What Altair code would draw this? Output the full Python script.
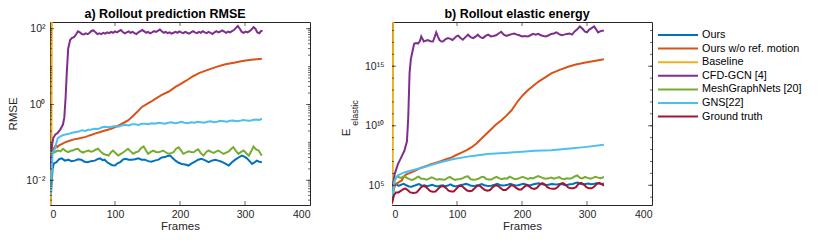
import altair as alt
import pandas as pd

SERIES = ["Ours", "Ours w/o ref. motion", "Baseline", "CFD-GCN [4]",
          "MeshGraphNets [20]", "GNS[22]", "Ground truth"]
COLORS = ["#0072BD", "#D95319", "#EDB120", "#7E2F8E", "#77AC30", "#4DBEEE", "#A2142F"]

FRAME_TICKS = [0, 100, 200, 300, 400]
RMSE_TICKS = [0.01, 1, 100]
RMSE_TICK_LABELS = ["10⁻²", "10⁰", "10²"]
ENERGY_TICKS = [1e5, 1e10, 1e15]
ENERGY_TICK_LABELS = ["10⁵", "10¹⁰", "10¹⁵"]
RMSE_DOMAIN = [0.00223, 150]
ENERGY_DOMAIN = [2.2e3, 5.2e18]

# ---------------- a) RMSE ----------------
rmse_ours_f = [0, 2, 4, 6, 10, 14, 18, 23, 28, 33, 38, 43, 48, 53, 58, 63, 69, 73, 77, 81, 84, 88, 92, 96, 100,
               104, 108, 112, 116, 121, 126, 131, 136, 141, 146, 151, 156, 161, 167, 172, 177, 181, 185, 189, 193,
               198, 203, 208, 213, 218, 223, 228, 233, 238, 244, 249, 254, 259, 264, 269, 275, 280, 285, 290, 295,
               299, 303, 307, 311, 315, 318, 322, 326]
rmse_ours_v = [0.0015, 0.006, 0.02, 0.028, 0.03, 0.036, 0.038, 0.033, 0.035, 0.032, 0.033, 0.036, 0.035, 0.031,
               0.03, 0.032, 0.033, 0.036, 0.038, 0.034, 0.035, 0.03, 0.027, 0.025, 0.0245, 0.028, 0.03, 0.035,
               0.037, 0.035, 0.035, 0.036, 0.038, 0.035, 0.035, 0.032, 0.031, 0.033, 0.035, 0.04, 0.041, 0.044,
               0.045, 0.038, 0.033, 0.029, 0.027, 0.026, 0.0245, 0.028, 0.031, 0.035, 0.037, 0.034, 0.03, 0.033,
               0.035, 0.033, 0.031, 0.028, 0.0245, 0.03, 0.035, 0.04, 0.045, 0.042, 0.038, 0.032, 0.027, 0.03,
               0.033, 0.031, 0.03]

rmse_norefmotion_f = [0, 3, 6, 9, 11, 14, 18, 23, 30, 37, 44, 55, 62, 69, 76, 82, 89, 95, 102, 110, 115, 120,
                      126, 134, 141, 150, 156, 162, 172, 183, 193, 200, 210, 219, 230, 244, 256, 270, 283, 296,
                      310, 326]
rmse_norefmotion_v = [0.04, 0.05, 0.07, 0.085, 0.075, 0.083, 0.09, 0.1, 0.11, 0.12, 0.126, 0.14, 0.155, 0.17,
                      0.185, 0.2, 0.215, 0.23, 0.26, 0.31, 0.34, 0.38, 0.47, 0.63, 0.85, 1.05, 1.2, 1.4, 1.8,
                      2.2, 2.9, 3.4, 4.3, 5.4, 6.8, 8.3, 9.8, 11.5, 12.6, 14.1, 15.1, 16.2]

rmse_baseline_f = [1, 2, 3]
rmse_baseline_v = [0.002, 0.01, 1e4]

rmse_cfdgcn_f = [0, 3, 5, 8, 12, 16, 20, 22, 24, 26, 28, 31, 34, 37, 40, 43, 46, 49, 52, 55, 58, 61, 64, 67, 70,
                 73, 76, 79, 82, 85, 88, 91, 94, 97, 100, 103, 106, 109, 112, 115, 118, 121, 124, 127, 130, 133,
                 136, 139, 142, 145, 148, 151, 154, 157, 160, 163, 166, 169, 172, 175, 178, 181, 184, 187, 190,
                 193, 196, 199, 202, 205, 208, 211, 214, 217, 220, 223, 226, 229, 232, 235, 238, 241, 244, 247,
                 250, 253, 256, 259, 262, 265, 268, 271, 274, 277, 280, 283, 286, 289, 292, 295, 298, 301, 304,
                 307, 310, 313, 316, 319, 322, 325, 327]
rmse_cfdgcn_v = [0.02, 0.08, 0.13, 0.16, 0.18, 0.22, 0.3, 0.45, 1.5, 8, 30,
                 50, 57, 60, 70, 85, 80, 72, 70, 75, 72,
                 78, 88, 90, 80, 72, 75, 72, 78, 74, 80,
                 76, 82, 78, 85, 80, 86, 92, 82, 75, 80,
                 85, 78, 82, 76, 72, 80, 86, 92, 85, 78,
                 82, 75, 80, 86, 82, 88, 95, 85, 78, 82,
                 76, 80, 74, 78, 82, 78, 85, 80, 76, 82,
                 78, 74, 80, 86, 80, 76, 82, 78, 86, 80,
                 76, 82, 78, 72, 80, 86, 80, 84, 90, 84,
                 78, 84, 80, 86, 92, 105, 118, 100, 82, 78,
                 84, 80, 86, 95, 110, 100, 80, 76, 88, 86]

rmse_mgn_f = [0, 2, 7, 12, 16, 20, 24, 28, 32, 35, 39, 43, 47, 51, 55, 59, 63, 66, 70, 74, 78, 82, 86, 90, 94,
              97, 101, 105, 109, 113, 117, 120, 124, 128, 132, 136, 140, 144, 148, 151, 155, 159, 163, 167, 171,
              174, 178, 182, 186, 190, 194, 198, 202, 205, 209, 213, 217, 221, 225, 228, 232, 236, 240, 244, 248,
              252, 256, 259, 263, 267, 271, 275, 279, 282, 286, 290, 294, 298, 302, 306, 310, 313, 317, 321, 324,
              326]
rmse_mgn_v = [0.06, 0.05, 0.055, 0.061, 0.058, 0.068, 0.06, 0.055, 0.06, 0.061, 0.066, 0.068, 0.058, 0.054,
              0.058, 0.061, 0.057, 0.058, 0.064, 0.068, 0.057, 0.05, 0.047, 0.045, 0.055, 0.061, 0.052, 0.045,
              0.05, 0.055, 0.062, 0.068, 0.058, 0.05, 0.055, 0.058, 0.07, 0.078, 0.06, 0.05, 0.056, 0.061, 0.056,
              0.055, 0.058, 0.061, 0.055, 0.05, 0.052, 0.055, 0.068, 0.074, 0.06, 0.05, 0.054, 0.058, 0.056,
              0.055, 0.062, 0.066, 0.052, 0.045, 0.055, 0.061, 0.056, 0.053, 0.058, 0.061, 0.055, 0.05, 0.054,
              0.058, 0.068, 0.075, 0.06, 0.05, 0.056, 0.061, 0.052, 0.045, 0.06, 0.078, 0.065, 0.061, 0.05, 0.045]

rmse_gns_f = [0, 2, 4, 6, 8, 10, 12, 15, 18, 22, 26, 30, 34, 38, 43, 49, 54, 59, 64, 69, 74, 80, 85, 90, 95, 100,
              105, 110, 116, 121, 126, 131, 136, 141, 146, 151, 157, 162, 167, 172, 177, 182, 187, 192, 197, 202,
              207, 212, 217, 222, 227, 232, 237, 242, 247, 252, 257, 262, 267, 272, 277, 282, 287, 292, 297, 302,
              307, 312, 317, 322, 326]
rmse_gns_v = [0.004, 0.01, 0.05, 0.06, 0.07, 0.1, 0.13, 0.14, 0.15, 0.16, 0.165, 0.17, 0.18, 0.185, 0.19, 0.21,
              0.2, 0.215, 0.22, 0.23, 0.225, 0.25, 0.26, 0.25, 0.26, 0.27, 0.26, 0.28, 0.29, 0.28, 0.3, 0.3, 0.29,
              0.31, 0.31, 0.3, 0.32, 0.31, 0.33, 0.32, 0.31, 0.33, 0.34, 0.32, 0.33, 0.35, 0.33, 0.32, 0.34, 0.33,
              0.35, 0.34, 0.33, 0.35, 0.36, 0.34, 0.35, 0.37, 0.36, 0.35, 0.37, 0.38, 0.36, 0.37, 0.39, 0.38, 0.37,
              0.39, 0.4, 0.39, 0.42]

# ---------------- b) elastic energy ----------------
en_ours_f = [0, 2, 4, 7, 10, 14, 18, 22, 26, 30, 34, 38, 42, 46, 50, 54, 58, 62, 66, 70, 74, 78, 82, 86, 90, 94,
             98, 102, 106, 110, 114, 118, 122, 126, 130, 134, 138, 142, 146, 150, 154, 158, 162, 166, 170, 174,
             178, 182, 186, 190, 194, 198, 202, 206, 210, 214, 218, 222, 226, 230, 234, 238, 242, 246, 250, 254,
             258, 262, 266, 270, 274, 278, 282, 286, 290, 294, 298, 302, 306, 310, 314, 318, 322, 326]
en_ours_v = [5e3, 3e4, 1e5, 1.2e5, 9e4, 1.1e5, 1.3e5, 1e5, 8e4, 7.5e4, 9e4, 1.1e5, 1.25e5, 9e4, 1e5, 8.5e4, 9.5e4,
             1.1e5, 9e4, 8e4, 9e4, 1e5, 8.5e4, 9.5e4, 1.2e5, 9e4, 8e4, 9e4, 1.05e5, 1.15e5, 1.3e5, 1.1e5, 9e4,
             8.5e4, 9.5e4, 1.05e5, 1.25e5, 1e5, 9e4, 8.5e4, 9.5e4, 1.1e5, 1.3e5, 1.05e5, 9.5e4, 1e5, 1.1e5, 1.3e5,
             1.1e5, 9.5e4, 1e5, 1.15e5, 1.35e5, 1.15e5, 1e5, 1.05e5, 1.2e5, 1.35e5, 1.5e5, 1.25e5, 1.1e5, 1.05e5,
             1.15e5, 1.3e5, 1.2e5, 1.15e5, 1.3e5, 1.2e5, 1.05e5, 1.1e5, 1.2e5, 1.3e5, 1.55e5, 1.7e5, 1.3e5,
             1.15e5, 1.3e5, 1.4e5, 1.2e5, 1.25e5, 1.5e5, 1.4e5, 1.3e5, 1.4e5]

en_norefmotion_f = [0, 3, 6, 9, 12, 15, 18, 22, 28, 35, 45, 52, 60, 68, 76, 84, 91, 99, 107, 115, 122, 130, 137,
                    145, 153, 160, 168, 176, 184, 194, 201, 209, 217, 225, 235, 245, 258, 271, 283, 296, 311, 326]
en_norefmotion_v = [1e4, 6.3e4, 1.26e5, 1.6e5, 2e5, 2.5e5, 5e5, 8.3e5, 1.1e6, 1.6e6, 3e6, 4e6, 5.8e6, 7.9e6,
                    1.1e7, 1.6e7, 2.1e7, 3.5e7, 5.6e7, 8.9e7, 1.5e8, 3.2e8, 7.6e8, 2e9, 5.4e9, 1.26e10, 2.8e10,
                    7.1e10, 2e11, 1.26e12, 3.5e12, 9.5e12, 2.2e13, 4.9e13, 1.1e14, 2.5e14, 5e14, 9.1e14, 1.4e15,
                    2e15, 2.8e15, 3.8e15]

en_baseline_f = [0, 1, 2]
en_baseline_v = [2e3, 1e6, 1e22]

en_cfdgcn_f = [0, 4, 9, 14, 19, 23, 25, 27, 29, 31, 34, 37, 40, 43, 45, 47, 49, 52, 55, 59, 63, 66, 68, 71, 73,
               76, 79, 82, 86, 90, 93, 96, 99, 102, 105, 109, 113, 117, 121, 125, 129, 132, 136, 140, 144, 148,
               152, 156, 160, 164, 168, 172, 176, 180, 184, 188, 192, 196, 200, 204, 209, 213, 217, 221, 225, 229,
               233, 237, 241, 245, 249, 253, 257, 261, 265, 269, 273, 277, 281, 285, 289, 293, 297, 300, 303, 307,
               311, 314, 317, 321, 326]
en_cfdgcn_v = [3.2e4, 8.3e5, 5.8e6, 2.1e7, 7.9e7, 5e8, 5e10, 2.5e14, 4e15, 1.3e16, 7.6e16, 8.7e16, 8e16, 1.3e17,
               3.2e17, 2e17, 1.2e17, 1.4e17, 1.6e17, 1.26e17, 1.2e17, 3.2e17, 6.9e17, 2.8e17, 1.6e17, 1.2e17,
               1.26e17, 1.8e17, 2.3e17, 2e17, 1.6e17, 2.2e17, 3.2e17, 3.7e17, 2.5e17, 1.7e17, 2.8e17, 4.5e17,
               2.8e17, 2.3e17, 3.2e17, 4.5e17, 2.8e17, 2.3e17, 3.5e17, 4.5e17, 3.2e17, 3.5e17, 4e17, 5.6e17,
               7.9e17, 4.5e17, 3.5e17, 4.2e17, 5e17, 5.6e17, 4.5e17, 4e17, 3.2e17, 3.5e17, 3.2e17, 4e17, 5.2e17,
               4.5e17, 5.2e17, 4e17, 3.5e17, 3.2e17, 4e17, 5.2e17, 5.6e17, 7.1e17, 5e17, 4e17, 4.5e17, 5.2e17,
               5.6e17, 4.5e17, 8.3e17, 1.26e18, 2.2e18, 1.4e18, 7.9e17, 7.1e17, 1.15e18, 1.6e18, 2.2e18, 1.26e18,
               6.9e17, 8.9e17, 1e18]

en_mgn_f = [0, 2, 4, 7, 10, 14, 18, 22, 26, 30, 34, 38, 41, 45, 49, 53, 57, 61, 65, 69, 73, 77, 81, 85, 89, 93,
            97, 101, 105, 109, 113, 117, 121, 125, 129, 133, 137, 141, 145, 149, 153, 157, 161, 165, 169, 173,
            177, 181, 185, 189, 193, 197, 201, 205, 209, 213, 217, 221, 225, 229, 233, 237, 241, 245, 249, 253,
            257, 261, 265, 269, 273, 277, 281, 285, 289, 293, 297, 301, 305, 309, 313, 317, 321, 326]
en_mgn_v = [4e3, 5e4, 2.5e5, 5.2e5, 5e5, 4.2e5, 5.6e5, 4.5e5, 3.5e5, 2.8e5, 3.2e5, 4.5e5, 5.2e5, 3.5e5, 3.5e5,
            3e5, 3.6e5, 4.6e5, 3.8e5, 2.9e5, 3.3e5, 3.1e5, 2.9e5, 4e5, 5e5, 3.6e5, 2.8e5, 3.2e5, 3.4e5, 4e5,
            5.2e5, 5.6e5, 3.2e5, 2.9e5, 3.1e5, 3.5e5, 4.8e5, 5.2e5, 3.3e5, 3.1e5, 3e5, 4.2e5, 5e5, 3.8e5, 3.2e5,
            3.8e5, 3.6e5, 5.2e5, 4.2e5, 3.2e5, 3.5e5, 4.2e5, 5.2e5, 4.2e5, 3.4e5, 4e5, 3.8e5, 4.8e5, 6e5, 4.8e5,
            3.8e5, 3.6e5, 3.8e5, 4.5e5, 3.6e5, 4.2e5, 4.8e5, 3.6e5, 3.2e5, 3.9e5, 3.6e5, 4e5, 5.5e5, 6.6e5,
            4.2e5, 3.8e5, 5e5, 4.2e5, 3.5e5, 4.2e5, 5.2e5, 4.4e5, 4e5, 5e5]

en_gns_f = [0, 2, 4, 6, 9, 14, 20, 27, 37, 45, 60, 76, 95, 121, 147, 172, 195, 220, 245, 270, 296, 326]
en_gns_v = [6.3e3, 4e4, 2.2e5, 4e5, 7e5, 9e5, 1.26e6, 1.6e6, 2.2e6, 2.8e6, 5e6, 8.9e6, 1.6e7, 2.8e7, 4.2e7,
            5.2e7, 6.3e7, 7.8e7, 8.9e7, 1.15e8, 1.6e8, 2.5e8]

en_gt_f = [0, 3, 6, 10, 14, 18, 21, 24, 28, 33, 38, 42, 46, 50, 54, 58, 62, 67, 71, 75, 79, 83, 87, 91, 95, 99,
           103, 107, 111, 115, 119, 123, 127, 131, 135, 139, 143, 147, 151, 155, 159, 163, 167, 171, 175, 179,
           183, 187, 191, 195, 199, 203, 207, 211, 215, 219, 223, 227, 231, 235, 239, 243, 247, 251, 255, 259,
           263, 267, 271, 275, 279, 283, 287, 291, 295, 299, 303, 307, 311, 315, 319, 323, 326]
en_gt_v = [3e3, 1.5e4, 2.5e4, 2.5e4, 3.5e4, 5e4, 5.2e4, 4e4, 2.5e4, 2.2e4, 2.5e4, 4.5e4, 8e4, 8.5e4, 6e4, 3.5e4,
           2.8e4, 3e4, 5e4, 8e4, 8.5e4, 6e4, 3.5e4, 3e4, 3e4, 5e4, 8.5e4, 9e4, 6e4, 3.8e4, 3.2e4, 3.5e4, 5.5e4,
           9e4, 9e4, 6e4, 4e4, 3.5e4, 4e4, 7e4, 1e5, 9e4, 6e4, 4e4, 4e4, 6e4, 1e5, 9e4, 6e4, 4.5e4, 4.5e4, 7e4,
           1.05e5, 8e4, 5.5e4, 5e4, 6e4, 1.1e5, 1.5e5, 1.2e5, 7e4, 5.5e4, 5e4, 5e4, 7e4, 1.3e5, 1.5e5, 1.1e5,
           6.5e4, 5.5e4, 5.5e4, 7e4, 1.3e5, 1.6e5, 1.2e5, 7e4, 5.5e4, 5.5e4, 7.5e4, 1.3e5, 1.6e5, 1.2e5, 9e4]


def long_table(pairs):
    rows = []
    for name, (fr, vals) in pairs:
        assert len(fr) == len(vals), (name, len(fr), len(vals))
        rows += [{"series": name, "frame": f, "value": v} for f, v in zip(fr, vals)]
    return pd.DataFrame(rows)


rmse_df = long_table([
    ("Ours", (rmse_ours_f, rmse_ours_v)),
    ("Ours w/o ref. motion", (rmse_norefmotion_f, rmse_norefmotion_v)),
    ("Baseline", (rmse_baseline_f, rmse_baseline_v)),
    ("CFD-GCN [4]", (rmse_cfdgcn_f, rmse_cfdgcn_v)),
    ("MeshGraphNets [20]", (rmse_mgn_f, rmse_mgn_v)),
    ("GNS[22]", (rmse_gns_f, rmse_gns_v)),
])
energy_df = long_table([
    ("Ours", (en_ours_f, en_ours_v)),
    ("Ours w/o ref. motion", (en_norefmotion_f, en_norefmotion_v)),
    ("Baseline", (en_baseline_f, en_baseline_v)),
    ("CFD-GCN [4]", (en_cfdgcn_f, en_cfdgcn_v)),
    ("MeshGraphNets [20]", (en_mgn_f, en_mgn_v)),
    ("GNS[22]", (en_gns_f, en_gns_v)),
    ("Ground truth", (en_gt_f, en_gt_v)),
])
legend_df = pd.DataFrame({"series": SERIES})

# inner tick marks (MATLAB box style): labelled ticks and minor log ticks
rmse_minor = [k * 10.0 ** e for e in range(-3, 3) for k in range(1, 10)
              if RMSE_DOMAIN[0] <= k * 10.0 ** e <= RMSE_DOMAIN[1]]
energy_minor = [10.0 ** e for e in range(4, 19)]
xtick_df = pd.DataFrame({"frame": FRAME_TICKS[1:-1]})


def label_expr(ticks, labels):
    expr = f"'{labels[-1]}'"
    for t, lab in reversed(list(zip(ticks[:-1], labels[:-1]))):
        expr = f"datum.value <= {t * 1.5} ? '{lab}' : " + expr
    return expr


FONT = "Liberation Sans"
TXT = "#262626"
W, H = 260, 183

color = alt.Color("series:N", scale=alt.Scale(domain=SERIES, range=COLORS), legend=None)
X_AXIS = alt.Axis(values=FRAME_TICKS, title="Frames", labelPadding=4, titlePadding=1)
X_SCALE = alt.Scale(domain=[0, 400], nice=False)


def panel(df, domain, ticks, tick_labels, minor, ytitle, title, dx, lab_pad, title_x, title_y, extra=()):
    y_axis = alt.Axis(values=ticks, labelExpr=label_expr(ticks, tick_labels), title=ytitle,
                      labelPadding=lab_pad, titleX=title_x, titleY=title_y, titleAngle=270,
                      titleBaseline="middle", titleAlign="center")
    y_scale = alt.Scale(type="log", domain=domain, nice=False)
    lines = alt.Chart(df).mark_line(clip=True, strokeWidth=2).encode(
        x=alt.X("frame:Q", scale=X_SCALE, axis=X_AXIS),
        y=alt.Y("value:Q", scale=y_scale, axis=y_axis),
        color=color,
    )
    layers = [lines]
    for vals, ln in ((minor, 2), (ticks, 4)):
        base = alt.Chart(pd.DataFrame({"value": vals})).mark_rule(color=TXT, strokeWidth=0.7)
        yy = alt.Y("value:Q", scale=y_scale, axis=y_axis)
        layers.append(base.encode(y=yy, x=alt.value(0), x2=alt.value(ln)))
        layers.append(base.encode(y=yy, x=alt.value(W - ln), x2=alt.value(W)))
    xb = alt.Chart(xtick_df).mark_rule(color=TXT, strokeWidth=0.7)
    xx = alt.X("frame:Q", scale=X_SCALE, axis=X_AXIS)
    layers.append(xb.encode(x=xx, y=alt.value(H - 4), y2=alt.value(H)))
    layers.append(xb.encode(x=xx, y=alt.value(0), y2=alt.value(4)))
    return alt.layer(*layers, *extra).properties(
        width=W, height=H,
        title=alt.TitleParams(title, fontSize=12.5, font=FONT, fontWeight="bold", color="black",
                              offset=1.5, dx=dx))


left = panel(rmse_df, RMSE_DOMAIN, RMSE_TICKS, RMSE_TICK_LABELS, rmse_minor, "RMSE",
             "a) Rollout prediction RMSE", -15, 5, -37, H / 2)

ylab_sub = alt.Chart(pd.DataFrame({"t": ["elastic"]})).mark_text(
    angle=270, font=FONT, fontSize=9, align="center", baseline="middle"
).encode(text="t:N", x=alt.value(-37.5), y=alt.value(91), color=alt.value(TXT))
right = panel(energy_df, ENERGY_DOMAIN, ENERGY_TICKS, ENERGY_TICK_LABELS, energy_minor, "E",
              "b) Rollout elastic energy", -5, 8, -46, 110, extra=(ylab_sub,))

# legend drawn as its own small view, pulled left so its symbols start 6px right of panel b
LEG_X0 = -76
leg_y = alt.Y("series:N", scale=alt.Scale(type="point", domain=SERIES, range=[13, 94.6], padding=0), axis=None)
legend_rules = alt.Chart(legend_df).mark_rule(strokeWidth=2).encode(
    x=alt.value(LEG_X0), x2=alt.value(LEG_X0 + 40), y=leg_y, color=color)
legend_text = alt.Chart(legend_df).mark_text(
    align="left", baseline="middle", font=FONT, fontSize=10.8
).encode(x=alt.value(LEG_X0 + 44), y=leg_y, text="series:N", color=alt.value("black"))
legend = alt.layer(legend_rules, legend_text).properties(
    width=40, height=H, view=alt.ViewBackground(strokeOpacity=0))

chart = alt.hconcat(left, right, legend, spacing=82, bounds="flush").properties(
    padding={"left": -2, "top": -1, "right": 0, "bottom": 0}
).configure_view(stroke=TXT, strokeWidth=1).configure_axis(
    labelFont=FONT, labelFontSize=10.5, labelColor=TXT, titleFont=FONT, titleFontSize=11.5,
    titleFontWeight="normal", titleColor=TXT, grid=False, ticks=False, tickSize=0, domain=False
)

chart.save("out.html", embed_options={"renderer": "svg", "actions": False})
